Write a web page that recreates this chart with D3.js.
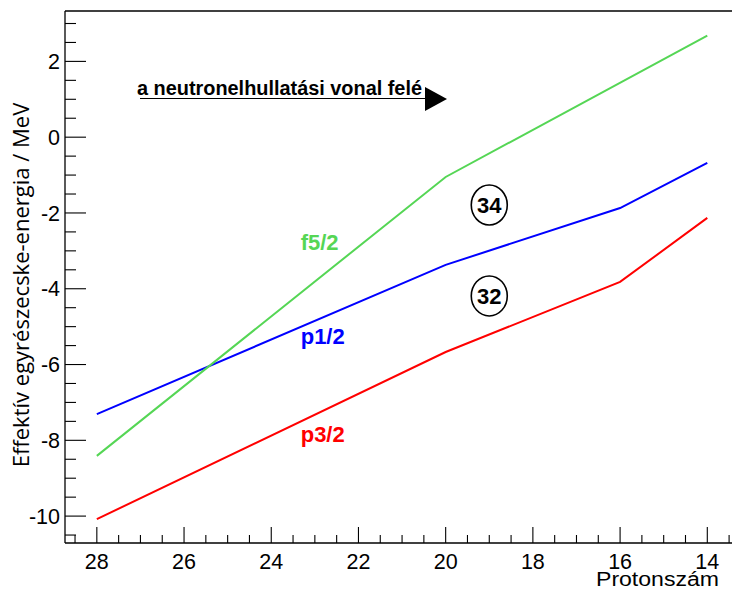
<!DOCTYPE html>
<html>
<head>
<meta charset="utf-8">
<script src="https://cdn.jsdelivr.net/npm/d3@7"></script>
<style>
  html, body { margin: 0; padding: 0; background: #fff; }
  svg { display: block; }
  text { font-family: "Liberation Sans", Arial, Helvetica, sans-serif; }
</style>
</head>
<body>
<svg id="chart" width="732" height="590"></svg>
<script>
// Proton numbers (x) and effective single-particle energies in MeV (y)
const protons = [28, 20, 16, 14];
const p32 = [-10.08, -5.67, -3.82, -2.13];
const p12 = [-7.31, -3.37, -1.87, -0.68];
const f52Protons = [28, 20, 14];
const f52 = [-8.41, -1.05, 2.68];

const xTicks = [28, 26, 24, 22, 20, 18, 16, 14];
const yTicks = [2, 0, -2, -4, -6, -8, -10];

const series = [
  { name: "p3/2", color: "#ff0000", xs: protons, ys: p32, label: [22.82, -8.04] },
  { name: "p1/2", color: "#0000ff", xs: protons, ys: p12, label: [22.82, -5.46] },
  { name: "f5/2", color: "#55d655", xs: f52Protons, ys: f52, label: [22.89, -2.99] }
];

const shellGaps = [
  { text: "34", at: [19.0, -1.79] },
  { text: "32", at: [19.0, -4.19] }
];

const svg = d3.select("#chart");
const mLeft = 65, mTop = 11, mBottom = 543, mRight = 740;

const x = d3.scaleLinear().domain([28.73, 13.25]).range([mLeft, mRight]);
const y = d3.scaleLinear().domain([3.33, -10.71]).range([mTop, mBottom]);

// frame top line
svg.append("line")
  .attr("x1", mLeft).attr("x2", mRight).attr("y1", mTop).attr("y2", mTop)
  .attr("stroke", "#000").attr("stroke-width", 1.3);

// y axis with major ticks every 2 and minor every 0.5
const yAxisG = svg.append("g").attr("transform", `translate(${mLeft},0)`);
yAxisG.append("line").attr("x1", 0).attr("x2", 0).attr("y1", mTop).attr("y2", mBottom)
  .attr("stroke", "#000").attr("stroke-width", 1.3);
const yMinor = d3.range(-10.5, 3.3, 0.5);
yAxisG.selectAll("line.minor").data(yMinor).join("line")
  .attr("class", "minor")
  .attr("x1", 0).attr("x2", d => (Math.abs(d % 2) < 1e-9 ? 21 : 11))
  .attr("y1", d => y(d)).attr("y2", d => y(d))
  .attr("stroke", "#000").attr("stroke-width", 1.1);
yAxisG.selectAll("text").data(yTicks).join("text")
  .attr("x", -5).attr("y", d => y(d)).attr("dy", "0.36em")
  .attr("text-anchor", "end").attr("font-size", 21.5)
  .text(d => d);

// x axis with major ticks every 2 and minor every 0.5
const xAxisG = svg.append("g").attr("transform", `translate(0,${mBottom})`);
xAxisG.append("line").attr("x1", mLeft).attr("x2", mRight).attr("y1", 0).attr("y2", 0)
  .attr("stroke", "#000").attr("stroke-width", 1.3);
const xMinor = d3.range(13.5, 28.75, 0.5);
xAxisG.selectAll("line.minor").data(xMinor).join("line")
  .attr("class", "minor")
  .attr("x1", d => x(d)).attr("x2", d => x(d))
  .attr("y1", 0).attr("y2", d => (Math.abs(d % 2) < 1e-9 ? -16 : -8))
  .attr("stroke", "#000").attr("stroke-width", 1.1);
xAxisG.selectAll("text").data(xTicks).join("text")
  .attr("x", d => x(d)).attr("y", 26)
  .attr("text-anchor", "middle").attr("font-size", 21.5)
  .text(d => d);

// axis titles
svg.append("text")
  .attr("x", 719).attr("y", 586)
  .attr("text-anchor", "end").attr("font-size", 19.5)
  .attr("textLength", 123).attr("lengthAdjust", "spacingAndGlyphs")
  .text("Protonszám");
svg.append("text")
  .attr("transform", "translate(29,285) rotate(-90)")
  .attr("text-anchor", "middle").attr("font-size", 22)
  .style("font-family", "'Open Sans', 'DejaVu Sans', sans-serif")
  .text("Effektív egyrészecske-energia / MeV");

// energy level lines
const line = d3.line().x(d => x(d[0])).y(d => y(d[1]));
series.forEach(s => {
  svg.append("path")
    .datum(s.xs.map((v, i) => [v, s.ys[i]]))
    .attr("d", line)
    .attr("fill", "none")
    .attr("stroke", s.color)
    .attr("stroke-width", 2);
  svg.append("text")
    .attr("x", x(s.label[0])).attr("y", y(s.label[1]))
    .attr("text-anchor", "middle")
    .attr("font-size", 22).attr("font-weight", "bold")
    .attr("fill", s.color)
    .text(s.name);
});

// circled shell-gap numbers
shellGaps.forEach(g => {
  const cx = x(g.at[0]), cy = y(g.at[1]);
  svg.append("ellipse")
    .attr("cx", cx).attr("cy", cy).attr("rx", 18).attr("ry", 20)
    .attr("fill", "none").attr("stroke", "#000").attr("stroke-width", 1.6);
  svg.append("text")
    .attr("x", cx).attr("y", cy).attr("dy", "0.36em")
    .attr("text-anchor", "middle")
    .attr("font-size", 22).attr("font-weight", "bold")
    .text(g.text);
});

// direction arrow toward the neutron drip line
svg.append("text")
  .attr("x", 137).attr("y", 95)
  .attr("font-size", 20).attr("font-weight", "bold")
  .attr("textLength", 285).attr("lengthAdjust", "spacingAndGlyphs")
  .text("a neutronelhullatási vonal felé");
svg.append("line")
  .attr("x1", 140).attr("x2", 428).attr("y1", 98.5).attr("y2", 98.5)
  .attr("stroke", "#000").attr("stroke-width", 1.2);
svg.append("path")
  .attr("d", "M425,87 L447,99 L425,111 Z")
  .attr("fill", "#000");
</script>
</body>
</html>
